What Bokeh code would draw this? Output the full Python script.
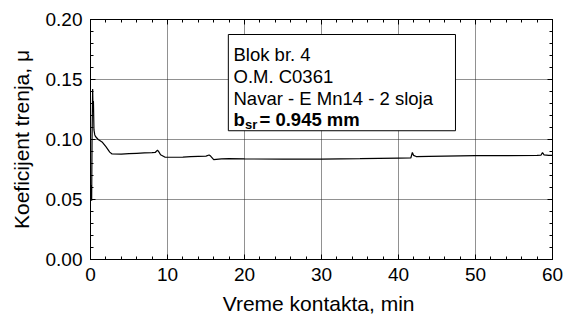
from bokeh.plotting import figure
from bokeh.models import (Range1d, LinearAxis, SingleIntervalTicker, NumeralTickFormatter,
                          BoxAnnotation, Label, Grid)
from bokeh.embed import file_html
from bokeh.resources import INLINE

# ---- data ----
time_min = [0.1, 0.15, 0.2, 0.28, 0.33, 0.38, 0.45, 0.55, 0.65, 1.0, 1.5, 2.0, 2.5, 2.8,
            4, 5, 6, 7, 8, 8.4, 8.7, 8.9, 9.1, 9.7, 11, 12, 13, 14, 15, 15.4, 15.6, 16,
            17, 18, 20, 25, 30, 35, 40, 41.6, 41.8, 41.95, 42.3, 44, 46, 50, 54, 58,
            58.5, 58.7, 58.9, 59.5, 60]
mu = [0.062, 0.049, 0.100, 0.142, 0.125, 0.132, 0.108, 0.104, 0.1025, 0.100, 0.098, 0.094,
      0.0895, 0.0879, 0.0878, 0.0882, 0.0885, 0.0888, 0.0890, 0.0892, 0.0912, 0.0895,
      0.0873, 0.0852, 0.0852, 0.0853, 0.0858, 0.0860, 0.0862, 0.0871, 0.0862, 0.0832,
      0.0838, 0.0840, 0.0838, 0.0836, 0.0837, 0.0840, 0.0845, 0.0846, 0.0892, 0.0868,
      0.0858, 0.0860, 0.0862, 0.0865, 0.0866, 0.0867, 0.0869, 0.0892, 0.0872, 0.0868,
      0.0868]

x_range = (0, 60)
y_range = (0.0, 0.20)
x_tick_step = 10
y_tick_step = 0.05

x_label = "Vreme kontakta,  min"
y_label = "Koeficijent trenja, μ"
box_lines = ["Blok br. 4", "O.M. C0361", "Navar - E Mn14 - 2 sloja"]
box_last = ("b", "sr", "= 0.945 mm")

FONT = "Liberation Sans"

p = figure(width=566, height=322, output_backend="svg", toolbar_location=None,
           x_range=Range1d(*x_range), y_range=Range1d(*y_range),
           min_border_left=90, min_border_right=14, min_border_top=19, min_border_bottom=63,
           x_axis_type=None, y_axis_type=None)
p.background_fill_color = "white"
p.border_fill_color = "white"
p.outline_line_color = "black"
p.outline_line_width = 1

xt = SingleIntervalTicker(interval=x_tick_step, num_minor_ticks=5)
yt = SingleIntervalTicker(interval=y_tick_step, num_minor_ticks=5)


def style(ax, labels=True):
    ax.axis_line_color = "black"
    ax.major_tick_line_color = "black"
    ax.minor_tick_line_color = "black"
    ax.major_tick_in = 5
    ax.major_tick_out = 0
    ax.minor_tick_in = 3
    ax.minor_tick_out = 0
    if labels:
        ax.major_label_text_font = FONT
        ax.major_label_text_font_size = "19px"
        ax.major_label_text_color = "black"
        ax.major_label_standoff = 8
        ax.axis_label_text_font = FONT
        ax.axis_label_text_font_size = "21px"
        ax.axis_label_text_font_style = "normal"
        ax.axis_label_text_color = "black"
    else:
        ax.major_label_text_font_size = "0px"
        ax.major_label_text_color = None
        ax.major_label_standoff = 0


bx = LinearAxis(ticker=xt, axis_label=x_label, axis_label_standoff=8)
style(bx)
p.add_layout(bx, "below")
ly = LinearAxis(ticker=yt, formatter=NumeralTickFormatter(format="0.00"),
                axis_label=y_label, axis_label_standoff=10)
style(ly)
p.add_layout(ly, "left")
tx = LinearAxis(ticker=xt)
style(tx, labels=False)
p.add_layout(tx, "above")
ry = LinearAxis(ticker=yt)
style(ry, labels=False)
p.add_layout(ry, "right")

for dim, tk in ((0, xt), (1, yt)):
    p.add_layout(Grid(dimension=dim, ticker=tk, grid_line_color="#222222",
                      grid_line_dash="1 1", grid_line_width=1))

p.line(time_min, mu, line_color="black", line_width=1.2)

# annotation box
box = BoxAnnotation(left=17.9, right=47.4, bottom=0.1073, top=0.1875,
                    fill_color="white", fill_alpha=1.0, line_color="black", line_alpha=1.0,
                    line_width=1)
p.add_layout(box)

tx0 = 18.57
base_y = [0.1708, 0.1524, 0.1340]
for t, yy in zip(box_lines, base_y):
    p.add_layout(Label(x=tx0, y=yy, text=t, text_font=FONT, text_font_size="18.5px",
                       text_color="black", text_baseline="alphabetic"))
p.add_layout(Label(x=tx0, y=0.1165, text=box_last[0], text_font=FONT, text_font_size="18.5px",
                   text_font_style="bold", text_color="black", text_baseline="alphabetic"))
p.add_layout(Label(x=tx0, y=0.1165, x_offset=11.5, y_offset=-5, text=box_last[1], text_font=FONT,
                   text_font_size="13px", text_font_style="bold", text_color="black",
                   text_baseline="alphabetic"))
p.add_layout(Label(x=tx0, y=0.1165, x_offset=26, text=box_last[2], text_font=FONT,
                   text_font_size="18.5px", text_font_style="bold", text_color="black",
                   text_baseline="alphabetic"))

open("out.html", "w").write(file_html(p, INLINE))
